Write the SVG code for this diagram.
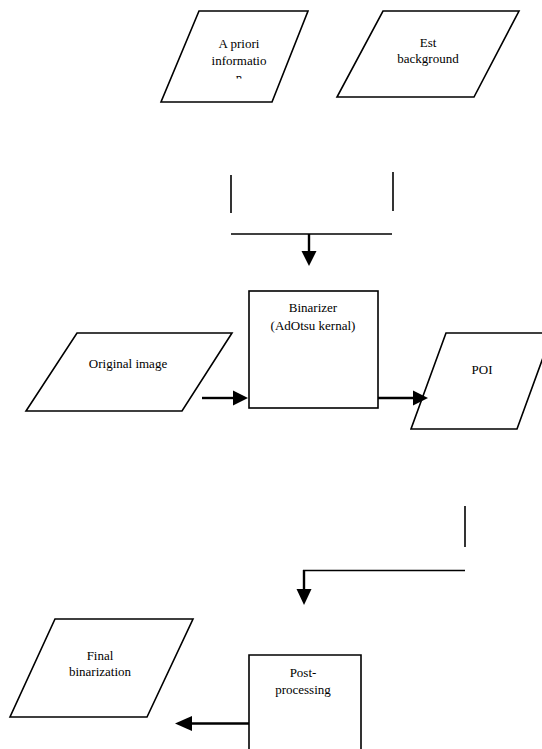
<svg xmlns="http://www.w3.org/2000/svg" width="542" height="749" viewBox="0 0 542 749">
<defs>
<style>
.shape{fill:#fff;stroke:#000;stroke-width:1.6}
.line{fill:none;stroke:#000;stroke-width:1.6}
.arr{fill:none;stroke:#000;stroke-width:2.4}
.head{fill:#000;stroke:none}
.t{font-family:'Liberation Serif','Times New Roman','DejaVu Serif',serif;font-size:13px;fill:#000;text-anchor:middle}
</style>
<clipPath id="clipA"><rect x="160" y="0" width="160" height="78.5"/></clipPath>
</defs>
<rect width="542" height="749" fill="#fff"/>
<g id="apriori">
<polygon class="shape" points="199,11 308,11 272,102 161,102"/>
<g clip-path="url(#clipA)">
<text class="t" x="239" y="48" font-family="Liberation Serif, serif">A priori</text>
<text class="t" x="239" y="65" font-family="Liberation Serif, serif">informatio</text>
<text class="t" x="239" y="82" font-family="Liberation Serif, serif">n</text>
</g>
</g>
<g id="estbackground">
<polygon class="shape" points="383,11 519,11 474,97 337,97"/>
<text class="t" x="428" y="47" font-family="Liberation Serif, serif">Est</text>
<text class="t" x="428" y="63" font-family="Liberation Serif, serif">background</text>
</g>
<g id="binarizer">
<rect class="shape" x="249" y="291" width="129" height="117"/>
<text class="t" x="313" y="312" font-family="Liberation Serif, serif">Binarizer</text>
<text class="t" x="313" y="330" font-family="Liberation Serif, serif">(AdOtsu kernal)</text>
</g>
<g id="original">
<polygon class="shape" points="77,333 232,333 182,411 26,411"/>
<text class="t" x="128" y="368" font-family="Liberation Serif, serif">Original image</text>
</g>
<g id="poi">
<polygon class="shape" points="446,333 552,333 517,429 411,429"/>
<text class="t" x="482" y="374" font-family="Liberation Serif, serif">POI</text>
</g>
<g id="final">
<polygon class="shape" points="55,619 193,619 147,717 10,717"/>
<text class="t" x="100" y="660" font-family="Liberation Serif, serif">Final</text>
<text class="t" x="100" y="676" font-family="Liberation Serif, serif">binarization</text>
</g>
<g id="postprocessing">
<path class="shape" d="M249,752 V655 H361 V752"/>
<text class="t" x="303" y="677" font-family="Liberation Serif, serif">Post-</text>
<text class="t" x="303" y="694" font-family="Liberation Serif, serif">processing</text>
</g>
<g id="connectors">
<line class="line" x1="231" y1="175" x2="231" y2="213"/>
<line class="line" x1="393" y1="172" x2="393" y2="211"/>
<line class="line" x1="231" y1="234" x2="392" y2="234"/>
<line class="arr" x1="309" y1="234" x2="309" y2="252"/>
<polygon class="head" points="301.5,251 316.5,251 309,266"/>
<line class="arr" x1="202" y1="398" x2="234" y2="398"/>
<polygon class="head" points="233,390.5 248,398 233,405.5"/>
<line class="arr" x1="378" y1="398" x2="414" y2="398"/>
<polygon class="head" points="413,390.5 428,398 413,405.5"/>
<line class="line" x1="465" y1="506" x2="465" y2="547"/>
<line class="line" x1="465" y1="570.5" x2="303" y2="570.5"/>
<line class="arr" x1="304" y1="570" x2="304" y2="590"/>
<polygon class="head" points="296.5,589 311.5,589 304,605"/>
<line class="arr" x1="249" y1="723.5" x2="191" y2="723.5"/>
<polygon class="head" points="192,716 175,723.5 192,731"/>
</g>
</svg>
